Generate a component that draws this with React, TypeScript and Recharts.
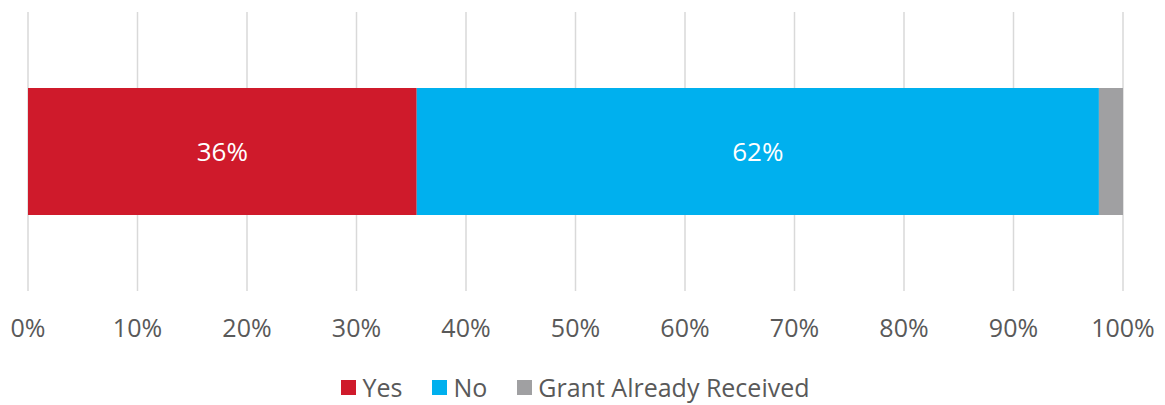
import { BarChart, Bar, XAxis, YAxis, CartesianGrid, Legend, LabelList } from 'recharts'

const categories = ['Grant']
const yesValues = [35.5]
const noValues = [62.3]
const receivedValues = [2.2]
const xTicks = [0, 10, 20, 30, 40, 50, 60, 70, 80, 90, 100]

const SERIES = [
  { key: 'yes', name: 'Yes', color: '#CF1A2B', showLabel: true },
  { key: 'no', name: 'No', color: '#00B0EE', showLabel: true },
  { key: 'received', name: 'Grant Already Received', color: '#A0A0A2', showLabel: false },
]

const data = categories.map((c, i) => ({
  category: c,
  yes: yesValues[i],
  no: noValues[i],
  received: receivedValues[i],
}))

const FONT = '"Open Sans", sans-serif'

const CustomLegend = () => (
  <div style={{ display: 'flex', justifyContent: 'center', fontFamily: FONT, fontSize: 25, color: '#595959', paddingTop: 19 }}>
    {SERIES.map((s) => (
      <div key={s.key} style={{ display: 'flex', alignItems: 'center', margin: '0 15px' }}>
        <span style={{ width: 15, height: 15, background: s.color, display: 'inline-block', marginRight: 6 }} />
        <span>{s.name}</span>
      </div>
    ))}
  </div>
)

export default function App() {
  return (
    <div style={{ width: 1165, height: 405, background: '#fff' }}>
      <style>{'body{margin:0}'}</style>
      <BarChart
        width={1165}
        height={405}
        data={data}
        layout="vertical"
        margin={{ top: 12, right: 42, left: 28, bottom: 0 }}
      >
        <CartesianGrid horizontal={false} stroke="#D9D9D9" strokeWidth={1.5} />
        <XAxis
          type="number"
          domain={[0, 100]}
          ticks={xTicks}
          tickFormatter={(v: number) => `${v}%`}
          axisLine={false}
          tickLine={false}
          tickMargin={22}
          height={60}
          tick={{ fill: '#595959', fontSize: 25, fontFamily: FONT }}
          interval={0}
        />
        <YAxis type="category" dataKey="category" hide />
        <Legend content={<CustomLegend />} verticalAlign="bottom" wrapperStyle={{ bottom: 0, height: 54 }} />
        {SERIES.map((s) => (
          <Bar key={s.key} dataKey={s.key} name={s.name} stackId="a" fill={s.color} barSize={127} isAnimationActive={false}>
            {s.showLabel && (
              <LabelList
                dataKey={s.key}
                position="center"
                formatter={(v: number) => `${Math.round(v)}%`}
                fill="#FFFFFF"
                fontSize={26}
                fontFamily={FONT}
              />
            )}
          </Bar>
        ))}
      </BarChart>
    </div>
  )
}
